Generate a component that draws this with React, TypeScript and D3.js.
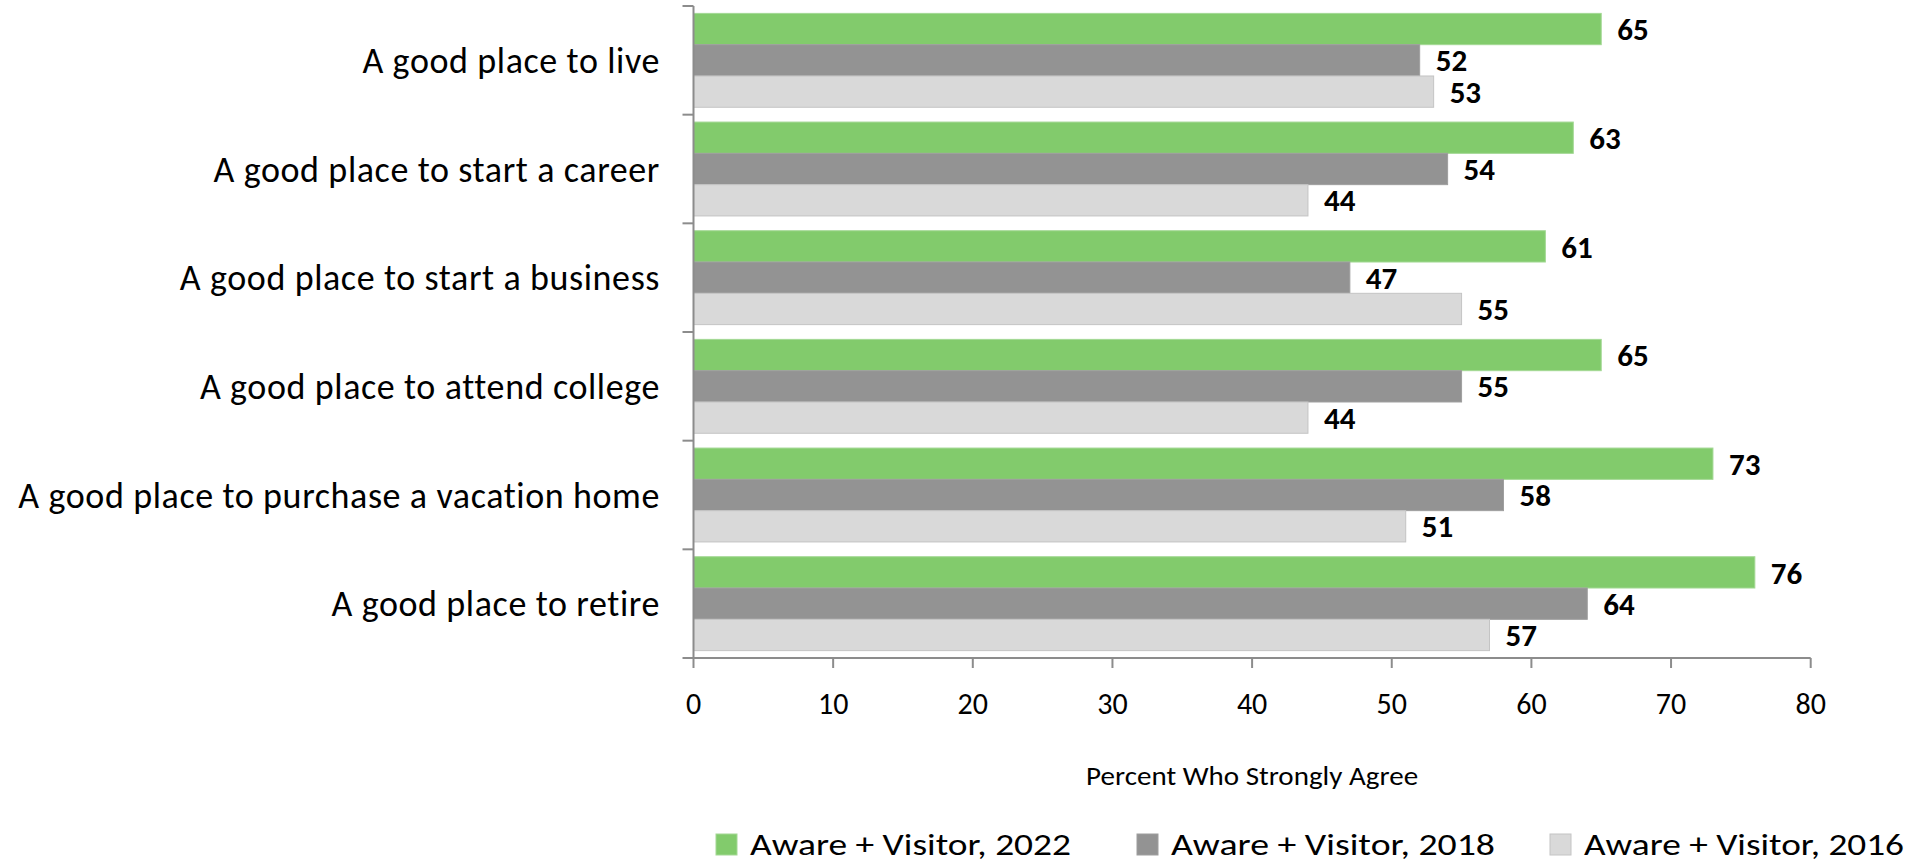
import * as d3 from 'd3';

// categories (top to bottom)
const categories = [
  'A good place to live',
  'A good place to start a career',
  'A good place to start a business',
  'A good place to attend college',
  'A good place to purchase a vacation home',
  'A good place to retire',
];

const seriesNames = ['Aware + Visitor, 2022', 'Aware + Visitor, 2018', 'Aware + Visitor, 2016'];

const values2022 = [65, 63, 61, 65, 73, 76];
const values2018 = [52, 54, 47, 55, 58, 64];
const values2016 = [53, 44, 55, 44, 51, 57];

const xTicks = [0, 10, 20, 30, 40, 50, 60, 70, 80];

const COLORS = ['#82cb6c', '#939393', '#d9d9d9'];
const STROKES = ['#a3d894', '#9e9e9e', '#c4c4c4'];

const W = 1916;
const H = 861;
const FONT = 'Carlito, Calibri, Lato, sans-serif';

export default function App() {
  const seriesValues = [values2022, values2018, values2016];

  const x = d3.scaleLinear().domain([0, 80]).range([693.5, 1810.7]);
  const y = d3.scaleBand<string>().domain(categories).range([6, 658]).padding(0);
  const inner = d3
    .scaleBand<number>()
    .domain([0, 1, 2])
    .range([0, y.bandwidth()])
    .paddingInner(0)
    .paddingOuter(0.236);

  const x0 = x(0);
  const bottom = y.range()[1];
  const boundaries = categories.map((c) => y(c) as number).concat([bottom]);

  // legend placement
  const legendX = [716, 1137, 1550];
  const legendW = [321, 324, 320];

  return (
    <svg
      width={W}
      height={H}
      style={{ position: 'absolute', left: 0, top: 0, background: '#fff' }}
      fontFamily={FONT}
    >
      {/* bars */}
      {seriesValues.map((vals, si) => (
        <g key={si}>
          {vals.map((v, ci) => (
            <rect
              key={ci}
              x={x0}
              y={(y(categories[ci]) as number) + (inner(si) as number)}
              width={x(v) - x0}
              height={inner.bandwidth()}
              fill={COLORS[si]}
              stroke={STROKES[si]}
              strokeWidth={1}
            />
          ))}
        </g>
      ))}

      {/* value labels */}
      {seriesValues.map((vals, si) => (
        <g key={'l' + si}>
          {vals.map((v, ci) => (
            <text
              key={ci}
              x={x(v) + 16}
              y={(y(categories[ci]) as number) + (inner(si) as number) + inner.bandwidth() / 2}
              dy="0.36em"
              fontSize={31}
              fontWeight="bold"
              fill="#000"
            >
              {v}
            </text>
          ))}
        </g>
      ))}

      {/* axes */}
      <g stroke="#8c8c8c" strokeWidth={2} fill="none">
        <line x1={x0} x2={x0} y1={boundaries[0]} y2={bottom} />
        {boundaries.map((b, i) => (
          <line key={i} x1={x0 - 11} x2={x0} y1={b} y2={b} />
        ))}
        <line x1={x0} x2={x(80)} y1={bottom} y2={bottom} />
        {xTicks.map((t) => (
          <line key={t} x1={x(t)} x2={x(t)} y1={bottom} y2={bottom + 10} />
        ))}
      </g>

      {/* category labels */}
      {categories.map((c) => (
        <text
          key={c}
          x={660}
          y={(y(c) as number) + y.bandwidth() / 2}
          dy="0.35em"
          textAnchor="end"
          fontSize={36}
          letterSpacing={0.6}
          fill="#000"
        >
          {c}
        </text>
      ))}

      {/* x tick labels */}
      {xTicks.map((t) => (
        <text key={t} x={x(t)} y={703} dy="0.35em" textAnchor="middle" fontSize={30} fill="#000">
          {t}
        </text>
      ))}

      {/* axis title */}
      <text
        x={(x(0) + x(80)) / 2}
        y={776}
        dy="0.35em"
        textAnchor="middle"
        fontSize={27}
        textLength={332}
        lengthAdjust="spacingAndGlyphs"
        fill="#000"
      >
        Percent Who Strongly Agree
      </text>

      {/* legend */}
      {seriesNames.map((s, i) => (
        <g key={s}>
          <rect x={legendX[i]} y={834} width={21} height={21} fill={COLORS[i]} stroke={STROKES[i]} />
          <text
            x={legendX[i] + 34}
            y={844}
            dy="0.35em"
            fontSize={30}
            textLength={legendW[i]}
            lengthAdjust="spacingAndGlyphs"
            fill="#000"
          >
            {s}
          </text>
        </g>
      ))}
    </svg>
  );
}
